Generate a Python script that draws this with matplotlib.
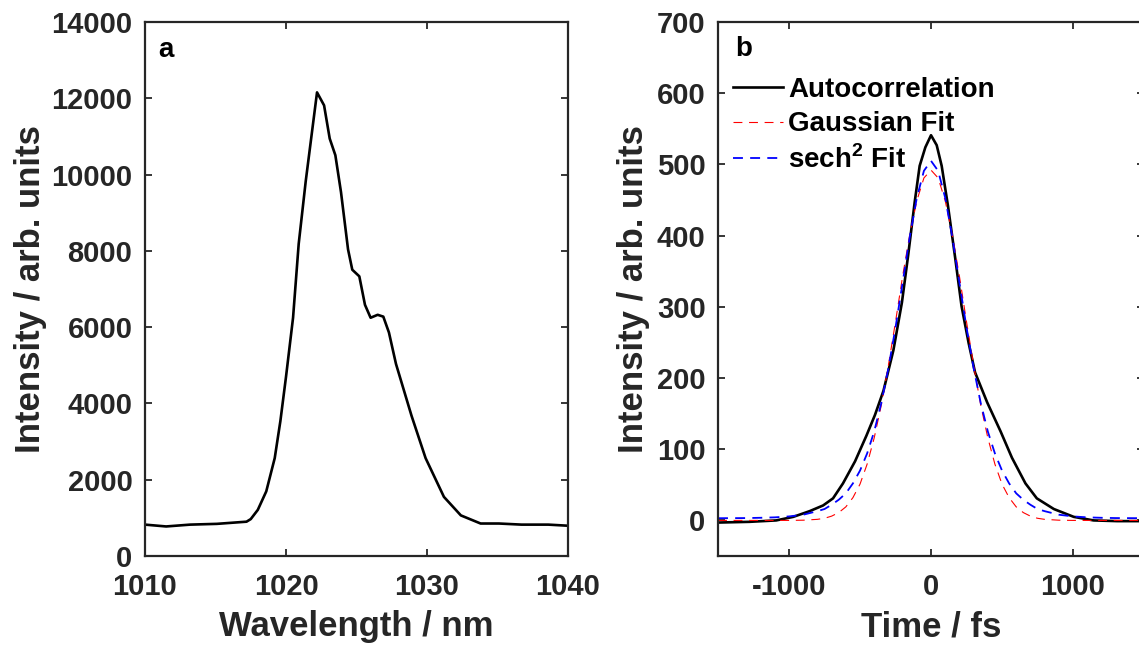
import matplotlib
matplotlib.use("Agg")
import matplotlib.pyplot as plt

plt.rcParams['font.family'] = ['Liberation Sans', 'DejaVu Sans']
plt.rcParams['font.weight'] = 'bold'
plt.rcParams['axes.labelweight'] = 'bold'
plt.rcParams['axes.unicode_minus'] = False
plt.rcParams['mathtext.fontset'] = 'custom'
plt.rcParams['mathtext.bf'] = 'Liberation Sans:bold'
plt.rcParams['mathtext.rm'] = 'Liberation Sans:bold'

# panel a: spectrum
wavelength = [1010.0, 1011.5, 1013.2, 1015.1, 1017.2, 1017.5, 1018.0, 1018.6, 1019.2,
              1019.6, 1020.0, 1020.5, 1020.9, 1021.4, 1021.8, 1022.2, 1022.7, 1023.1,
              1023.5, 1023.9, 1024.4, 1024.7, 1025.2, 1025.6, 1026.0, 1026.5, 1026.9,
              1027.3, 1027.8, 1028.9, 1029.9, 1031.2, 1032.4, 1033.8, 1035.1, 1036.7,
              1038.6, 1040.0]
spectrum = [823, 775, 823, 843, 900, 968, 1210, 1695, 2566, 3535, 4697, 6247, 8184,
            9830, 10993, 12155, 11815, 10944, 10508, 9540, 8039, 7506, 7332, 6586,
            6247, 6324, 6276, 5860, 5036, 3680, 2566, 1550, 1065, 852, 852, 823, 823, 794]

# panel b: autocorrelation and fits
delay = [-1500, -1280, -1090, -970, -855, -760, -690, -620, -535, -455, -395, -335,
         -265, -205, -160, -115, -80, -40, 0, 40, 75, 120, 170, 215, 265, 310, 395,
         490, 570, 665, 745, 865, 1005, 1145, 1310, 1500]
autocorr = [-3, -2, 0, 5, 13, 21, 31, 52, 83, 119, 148, 182, 239, 306, 374, 447, 498,
            524, 541, 527, 498, 441, 369, 301, 249, 208, 166, 125, 88, 52, 31, 16, 5,
            0, -1, -1]

fit_t = [-1500, -1400, -1300, -1200, -1100, -1000, -900, -800, -750, -700, -650, -600,
         -550, -500, -450, -400, -350, -300, -250, -200, -150, -100, -50, 0, 50, 100,
         150, 200, 250, 300, 350, 400, 450, 500, 550, 600, 650, 700, 750, 800, 900,
         1000, 1100, 1200, 1300, 1400, 1500]
gauss_fit = [0, 0, 0, 0, 0, 0, 0.3, 1.5, 3, 6, 11, 19, 32, 51, 79, 116, 162, 218, 279,
             343, 401, 449, 481, 492, 481, 449, 401, 343, 279, 218, 162, 116, 79, 51,
             32, 19, 11, 6, 3, 1.5, 0.3, 0, 0, 0, 0, 0, 0]
sech2_fit = [3.1, 3.2, 3.3, 3.7, 4.3, 5.6, 8, 13, 16, 22, 29, 38, 52, 70, 94, 125, 165,
             214, 271, 334, 398, 453, 491, 505, 491, 453, 398, 334, 271, 214, 165, 125,
             94, 70, 52, 38, 29, 22, 16, 13, 8, 5.6, 4.3, 3.7, 3.3, 3.2, 3.1]

AX_COLOR = "#262626"


def style_axes(ax):
    for side in ['top', 'right', 'bottom', 'left']:
        ax.spines[side].set_linewidth(1.6)
        ax.spines[side].set_color(AX_COLOR)
    ax.tick_params(direction='in', length=5, width=1.3, top=True, right=True,
                   labelsize=21, colors=AX_COLOR, labelcolor=AX_COLOR)
    ax.tick_params(axis='x', pad=12)
    ax.tick_params(axis='y', pad=9)


fig = plt.figure(figsize=(11.39, 6.46), dpi=100)

ax1 = fig.add_axes([0.1273, 0.1393, 0.3714, 0.8266])
ax1.plot(wavelength, spectrum, color="black", lw=1.9)
ax1.set_xlim(1010, 1040)
ax1.set_ylim(0, 14000)
ax1.set_xticks([1010, 1020, 1030, 1040])
ax1.set_yticks(range(0, 14001, 2000))
ax1.set_xlabel("Wavelength / nm", fontsize=25, color=AX_COLOR, labelpad=7)
ax1.set_ylabel("Intensity / arb. units", fontsize=25, color=AX_COLOR, labelpad=3)
ax1.text(0.031, 0.934, "a", transform=ax1.transAxes, fontsize=20, va='baseline')
style_axes(ax1)

ax2 = fig.add_axes([0.6304, 0.1393, 0.3740, 0.8266])
ax2.plot(delay, autocorr, color="black", lw=1.9, label="Autocorrelation")
ax2.plot(fit_t, gauss_fit, color="red", lw=0.8, dashes=(8, 6), label="Gaussian Fit")
ax2.plot(fit_t, sech2_fit, color="blue", lw=1.3, dashes=(5.5, 4),
         label=r"sech$^{\mathbf{2}}$ Fit")
ax2.set_xlim(-1500, 1500)
ax2.set_ylim(-50, 700)
ax2.set_xticks([-1000, 0, 1000])
ax2.set_yticks(range(0, 701, 100))
ax2.set_xlabel("Time / fs", fontsize=25, color=AX_COLOR, labelpad=7)
ax2.set_ylabel("Intensity / arb. units", fontsize=25, color=AX_COLOR, labelpad=5)
ax2.text(0.04, 0.936, "b", transform=ax2.transAxes, fontsize=20, va='baseline')
ax2.legend(loc="upper left", bbox_to_anchor=(0.035, 0.897), frameon=False,
           fontsize=20, handlelength=1.8, handletextpad=0.2, labelspacing=0.3,
           borderpad=0, borderaxespad=0)
style_axes(ax2)

fig.savefig("out.png", dpi=100)
